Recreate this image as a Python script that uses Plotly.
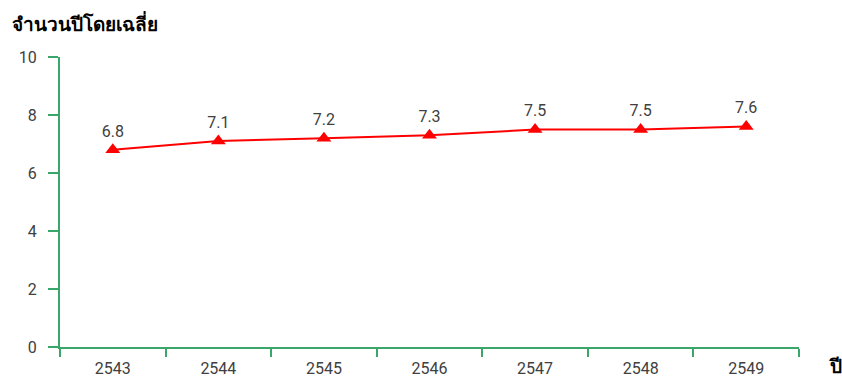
import plotly.graph_objects as go

years = ["2543", "2544", "2545", "2546", "2547", "2548", "2549"]
avg_years = [6.8, 7.1, 7.2, 7.3, 7.5, 7.5, 7.6]
y_ticks = [0, 2, 4, 6, 8, 10]

axis_green = "#3aa66a"
text_grey = "#404040"
font_family = "Roboto, Noto Sans, sans-serif"
title_family = "Noto Sans, Tahoma, sans-serif"

fig = go.Figure()
fig.add_trace(go.Scatter(
    x=years,
    y=avg_years,
    mode="lines+markers+text",
    line=dict(color="#ff0000", width=2),
    marker=dict(symbol="triangle-up", size=13, color="#ff0000"),
    text=[f"{v:.1f}" for v in avg_years],
    textposition="top center",
    textfont=dict(size=16, color=text_grey, family=font_family),
    cliponaxis=False,
    showlegend=False,
))

fig.update_xaxes(
    type="category", range=[-0.5, 6.5], automargin=False,
    showline=True, linecolor=axis_green, linewidth=2,
    ticks="outside", tickson="boundaries", ticklen=8,
    tickcolor=axis_green, tickwidth=2,
    ticklabelstandoff=6,
    tickfont=dict(size=16, color=text_grey, family=font_family),
    showgrid=False, zeroline=False,
)
fig.update_yaxes(
    range=[0, 10], tickvals=y_ticks, automargin=False,
    showline=True, linecolor=axis_green, linewidth=2,
    ticks="outside", ticklen=10, tickcolor=axis_green, tickwidth=2,
    ticklabelstandoff=8,
    tickfont=dict(size=16, color=text_grey, family=font_family),
    showgrid=False, zeroline=False,
)

fig.add_annotation(
    text="<b>จำนวนปีโดยเฉลี่ย</b>", xref="paper", yref="paper",
    x=-0.068, y=1.0, xanchor="left", yanchor="bottom", yshift=18,
    showarrow=False, font=dict(size=19, color="#000000", family=title_family),
)
fig.add_annotation(
    text="<b>ปี</b>", xref="paper", yref="paper",
    x=1.0, y=0, xanchor="left", yanchor="top", xshift=28, yshift=-4,
    showarrow=False, font=dict(size=19, color="#000000", family=title_family),
)

fig.update_layout(
    width=842, height=383,
    margin=dict(l=60, r=43, t=57, b=36),
    plot_bgcolor="white", paper_bgcolor="white",
)

fig.write_html("out.html")
